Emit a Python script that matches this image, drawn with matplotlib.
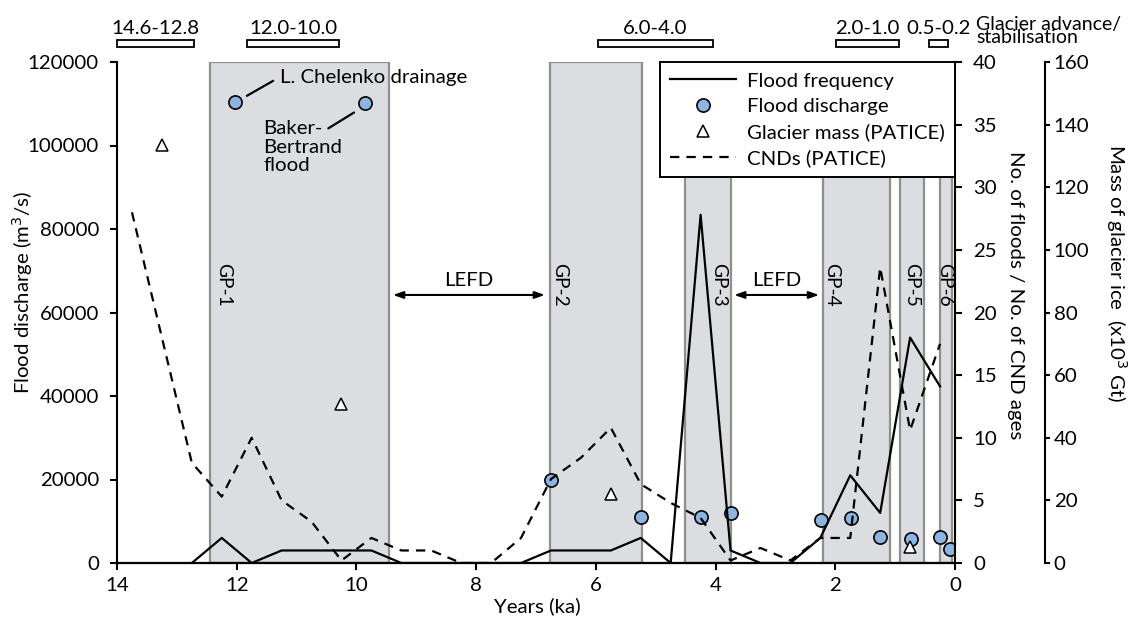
import matplotlib.pyplot as plt
from matplotlib.lines import Line2D
from matplotlib.patches import Rectangle
import matplotlib.transforms as mtransforms

plt.rcParams['font.family'] = ['Lato', 'DejaVu Sans']
plt.rcParams['font.size'] = 14.7

# flood frequency (no. of floods per 0.5 ka bin)
freq_age = [12.75, 12.25, 11.75, 11.25, 10.75, 10.25, 9.75, 9.25, 8.75, 8.25, 7.75, 7.25,
            6.75, 6.25, 5.75, 5.25, 4.75, 4.25, 3.75, 3.25, 2.75, 2.25, 1.75, 1.25, 0.75, 0.25]
freq_n = [0, 2, 0, 1, 1, 1, 1, 0, 0, 0, 0, 0,
          1, 1, 1, 2, 0, 27.8, 1, 0, 0, 2, 7, 4, 18, 14.1]

# CND ages (PATICE)
cnd_age = [13.75, 12.75, 12.25, 11.75, 11.25, 10.75, 10.25, 9.75, 9.25, 8.75, 8.25, 7.75, 7.25,
           6.75, 6.25, 5.75, 5.25, 4.75, 4.25, 3.75, 3.25, 2.75, 2.25, 1.75, 1.25, 0.75, 0.25]
cnd_n = [28, 8, 5.3, 10, 5, 3.3, 0.2, 2, 1, 1, 0, 0, 2,
         6.7, 8.4, 10.8, 6.3, 4.8, 3.6, 0.2, 1.2, 0.2, 2, 2, 23.6, 10.6, 17.5]

# flood discharge
q_age = [12.03, 9.86, 6.75, 5.25, 4.24, 3.74, 2.24, 1.74, 1.26, 0.74, 0.25, 0.08]
q_m3s = [110500, 110100, 20000, 11100, 11100, 12000, 10300, 10850, 6150, 5700, 6150, 3400]

# glacier mass (PATICE), x10^3 Gt
mass_age = [13.25, 10.25, 5.75, 0.75]
mass_kgt = [133.5, 50.8, 21.9, 5.2]

# glacial periods
gp_names = ['GP-1', 'GP-2', 'GP-3', 'GP-4', 'GP-5', 'GP-6']
gp_start = [12.45, 6.77, 4.51, 2.21, 0.92, 0.25]
gp_end = [9.46, 5.23, 3.74, 1.09, 0.52, 0.05]
gp_label_x = [12.22, 6.6, 3.95, 2.06, 0.73, 0.17]

# glacier advance / stabilisation bars
adv_labels = ['14.6-12.8', '12.0-10.0', '6.0-4.0', '2.0-1.0', '0.5-0.2']
adv_start = [14.0, 11.83, 5.97, 1.98, 0.44]
adv_end = [12.72, 10.29, 4.04, 0.94, 0.11]

fig = plt.figure(figsize=(11.45, 6.2), dpi=100)
ax = fig.add_axes([117 / 1145, 1 - 563 / 620, 838 / 1145, 501 / 620])
ax2 = ax.twinx()
ax3 = ax.twinx()

# bands
for s, e in zip(gp_start, gp_end):
    ax.axvspan(s, e, facecolor='#dcdde0', edgecolor='#8f8f8f', lw=1.6, zorder=0)
for name, x in zip(gp_names, gp_label_x):
    ax.text(x, 66600, name, rotation=270, ha='center', va='center', fontsize=13.8)

ax.plot(q_age, q_m3s, 'o', ms=9.5, mfc='#8db4e2', mec='black', mew=1.2, zorder=5)
ax2.plot(freq_age, freq_n, color='black', lw=1.6)
ax2.plot(cnd_age, cnd_n, color='black', lw=1.6, dashes=(4.2, 3.2))
ax3.plot(mass_age, mass_kgt, '^', ms=8.5, mfc='white', mec='black', mew=1.1)

# annotations
ax.text(11.28, 116300, 'L. Chelenko drainage', ha='left', va='center')
ax.annotate('', xy=(11.83, 111900), xytext=(11.39, 115500),
            arrowprops=dict(arrowstyle='-', lw=1.6, shrinkA=0, shrinkB=0))
ax.text(11.56, 106000, 'Baker-\nBertrand\nflood', ha='left', va='top', linespacing=1.08)
ax.annotate('', xy=(10.47, 104100), xytext=(10.04, 107900),
            arrowprops=dict(arrowstyle='-', lw=1.6, shrinkA=0, shrinkB=0))

for x0, x1 in [(9.39, 6.85), (3.69, 2.27)]:
    ax.annotate('', xy=(x0, 64200), xytext=(x1, 64200),
                arrowprops=dict(arrowstyle='<|-|>,head_length=0.4,head_width=0.14',
                                lw=1.5, color='black', shrinkA=0, shrinkB=0))
    ax.text((x0 + x1) / 2, 65600, 'LEFD', ha='center', va='bottom')

# advance bars above the plot
trans = mtransforms.blended_transform_factory(ax.transData, ax.transAxes)
for lab, s, e in zip(adv_labels, adv_start, adv_end):
    ax.add_patch(Rectangle((s, 1.030), e - s, 0.013, transform=trans, clip_on=False,
                           facecolor='white', edgecolor='black', lw=1.3))
    ax.text((s + e) / 2, 1.056, lab, transform=trans, ha='center', va='baseline')
ax.text(1.025, 1.062, 'Glacier advance/\nstabilisation', transform=ax.transAxes,
        ha='left', va='center', linespacing=0.75, fontsize=14)

# axes
ax.set_xlim(14, 0)
ax.set_ylim(0, 120000)
ax.set_xticks(range(14, -1, -2))
ax.set_yticks(range(0, 120001, 20000))
ax2.set_ylim(0, 40)
ax2.set_yticks(range(0, 41, 5))
ax3.set_ylim(0, 160)
ax3.set_yticks(range(0, 161, 20))
ax3.spines['right'].set_position(('axes', 1.107))

for a in (ax, ax2, ax3):
    a.spines['top'].set_visible(False)
    for sp in a.spines.values():
        sp.set_linewidth(1.5)
ax.spines['right'].set_visible(False)
ax3.spines['left'].set_visible(False)
ax2.spines['left'].set_visible(False)

ax.tick_params(axis='both', direction='out', length=5, width=1.5, pad=8)
ax.tick_params(axis='x', pad=5)
ax2.tick_params(axis='y', direction='out', length=5, width=1.5, pad=8)
ax3.tick_params(axis='y', direction='out', length=3.5, width=1.5, pad=3)

ax.text(-0.113, 0.539, 'Flood discharge (m$^3$/s)', transform=ax.transAxes,
        rotation=90, ha='center', va='center')
ax.text(0.502, -0.068, 'Years (ka)', transform=ax.transAxes, ha='center', va='top')
ax.text(1.0716, 0.535, 'No. of floods / No. of CND ages', transform=ax.transAxes,
        rotation=270, ha='center', va='center')
ax.text(1.193, 0.579, 'Mass of glacier ice  (x10$^3$ Gt)', transform=ax.transAxes,
        rotation=270, ha='center', va='center')

handles = [
    Line2D([], [], color='black', lw=1.6),
    Line2D([], [], ls='none', marker='o', ms=9.5, mfc='#8db4e2', mec='black', mew=1.2),
    Line2D([], [], ls='none', marker='^', ms=8.5, mfc='white', mec='black', mew=1.1),
    Line2D([], [], color='black', lw=1.6, dashes=(4.2, 3.2)),
]
labels = ['Flood frequency', 'Flood discharge', 'Glacier mass (PATICE)', 'CNDs (PATICE)']
leg = ax3.legend(handles, labels, loc='upper right', bbox_to_anchor=(1, 1),
                 bbox_transform=ax.transAxes, borderaxespad=0, fancybox=False,
                 edgecolor='black', framealpha=1, handlelength=3.2, handletextpad=0.55,
                 labelspacing=0.4, borderpad=0.5)
leg.get_frame().set_linewidth(1.4)

fig.savefig('out.png', dpi=100)
